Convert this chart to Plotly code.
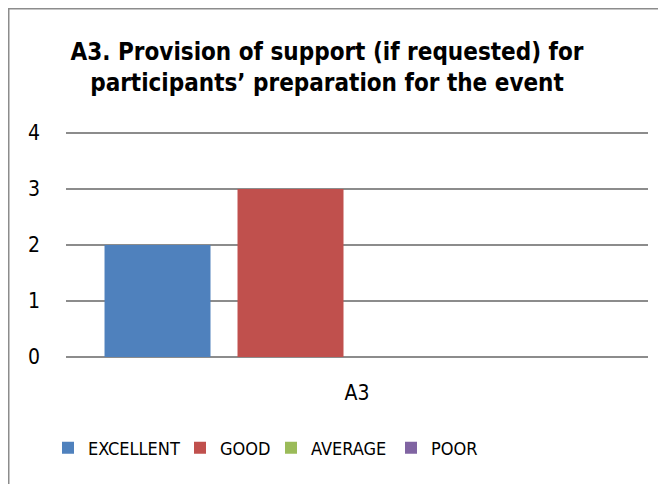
import plotly.graph_objects as go

categories = ["A3"]
series_names = ["EXCELLENT", "GOOD", "AVERAGE", "POOR"]
series_values = [[2], [3], [0], [0]]
series_colors = ["#4F81BD", "#C0504D", "#9BBB59", "#8064A2"]
y_ticks = [0, 1, 2, 3, 4]

# figure coordinates (page has an 8px body margin)
W, H = 666, 484
L, R, T, B = 58, 26, 123, 135
pw, ph = W - L - R, H - T - B
UNIT = 56.0  # px per y unit

def px_x(p):
    return (p - L) / pw

def px_y(p):
    return (H - B - p) / ph

FONT = "DejaVu Sans Condensed"
FS = 18
TICK_FS = 21
GRID = "#8C8C8C"

legend_lefts = [40, 172, 263, 383]
legend_names = ["legend", "legend2", "legend3", "legend4"]

fig = go.Figure()
for name, vals, col, lg in zip(series_names, series_values, series_colors, legend_names):
    fig.add_trace(go.Bar(x=categories, y=vals, name=name, legend=lg,
                         marker=dict(color=col, line=dict(width=0))))

legend_layout = {}
for lg, lx in zip(legend_names, legend_lefts):
    legend_layout[lg] = dict(orientation="h", x=px_x(lx), xanchor="left", y=px_y(440), yanchor="middle",
                             font=dict(family=FONT, size=FS, color="#000000"),
                             bgcolor="rgba(0,0,0,0)", itemwidth=30)

fig.update_layout(
    width=W, height=H,
    margin=dict(l=L, r=R, t=T, b=B),
    paper_bgcolor="white", plot_bgcolor="white",
    barmode="group", bargap=0.086, bargroupgap=0.203,
    title=dict(text="<b>A3. Provision of support (if requested) for<br>participants’ preparation for the event</b>",
               x=319 / W, xanchor="center", xref="container", y=1 - 51.5 / H, yanchor="middle",
               font=dict(family=FONT, size=24, color="#000000")),
    font=dict(family=FONT, size=FS, color="#000000"),
    showlegend=True,
    xaxis=dict(showgrid=False, showline=False, ticks="", tickfont=dict(size=TICK_FS), ticklabelstandoff=21),
    yaxis=dict(range=[0, ph / UNIT], tickvals=y_ticks, showgrid=True, gridcolor=GRID, gridwidth=1.5,
               zeroline=True, zerolinecolor=GRID, zerolinewidth=1.5, showline=False, ticks="",
               ticklabelstandoff=25, tickfont=dict(size=TICK_FS)),
    shapes=[
        dict(type="line", xref="paper", yref="paper", x0=px_x(0.75), x1=px_x(0.75), y0=px_y(0), y1=px_y(H + 10),
             line=dict(color=GRID, width=1.5)),
        dict(type="line", xref="paper", yref="paper", x0=px_x(0), x1=px_x(W + 10), y0=px_y(0.75), y1=px_y(0.75),
             line=dict(color=GRID, width=1.5)),
    ],
    **legend_layout,
)

fig.write_html("out.html")
